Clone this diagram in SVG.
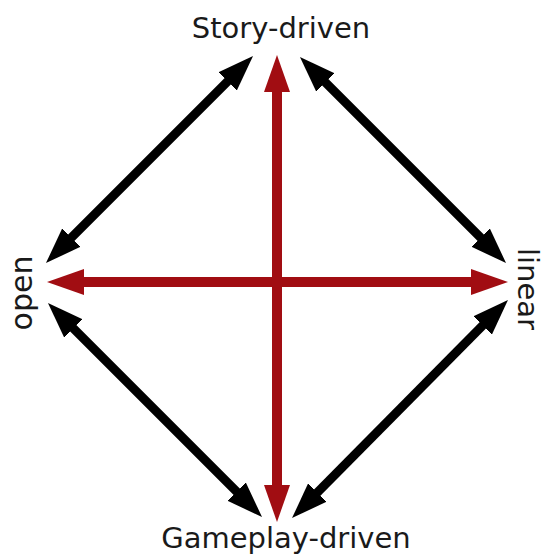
<svg xmlns="http://www.w3.org/2000/svg" width="544" height="556" viewBox="0 0 544 556">
<style>
.lbl{font-family:"DejaVu Sans","Open Sans",sans-serif;font-size:29px;fill:#1a1a1a}
.blk{stroke:#000;stroke-width:9;fill:none}
.red{stroke:#a10d12;stroke-width:10;fill:none}
</style>
<defs>
<marker id="hb" markerUnits="userSpaceOnUse" markerWidth="36" markerHeight="26" refX="16" refY="13" orient="auto-start-reverse">
<path d="M0,0 L36,13 L0,26 z" fill="#000"/>
</marker>
<marker id="hr" markerUnits="userSpaceOnUse" markerWidth="37" markerHeight="26" refX="17" refY="13" orient="auto-start-reverse">
<path d="M0,0 L37,13 L0,26 z" fill="#a10d12"/>
</marker>
</defs>
<rect width="544" height="556" fill="#fff"/>
<g id="connectors">
<line class="blk" x1="238.9" y1="70.1" x2="60.1" y2="248.9" marker-start="url(#hb)" marker-end="url(#hb)"/>
<line class="blk" x1="314.1" y1="71.1" x2="491.9" y2="248.9" marker-start="url(#hb)" marker-end="url(#hb)"/>
<line class="blk" x1="493.9" y1="314.1" x2="306.1" y2="503.9" marker-start="url(#hb)" marker-end="url(#hb)"/>
<line class="blk" x1="62.1" y1="317.1" x2="247.9" y2="502.9" marker-start="url(#hb)" marker-end="url(#hb)"/>
<line class="red" x1="277" y1="75" x2="277" y2="502" marker-start="url(#hr)" marker-end="url(#hr)"/>
<line class="red" x1="67" y1="282" x2="488" y2="282" marker-start="url(#hr)" marker-end="url(#hr)"/>
</g>
<g id="story"><text class="lbl" x="281" y="38" text-anchor="middle">Story-driven</text></g>
<g id="gameplay"><text class="lbl" x="286" y="548" text-anchor="middle">Gameplay-driven</text></g>
<g id="open"><text class="lbl" transform="translate(32,293) rotate(-90)" text-anchor="middle" style="font-size:30px">open</text></g>
<g id="linear"><text class="lbl" transform="translate(518,289) rotate(90)" text-anchor="middle">linear</text></g>
</svg>
